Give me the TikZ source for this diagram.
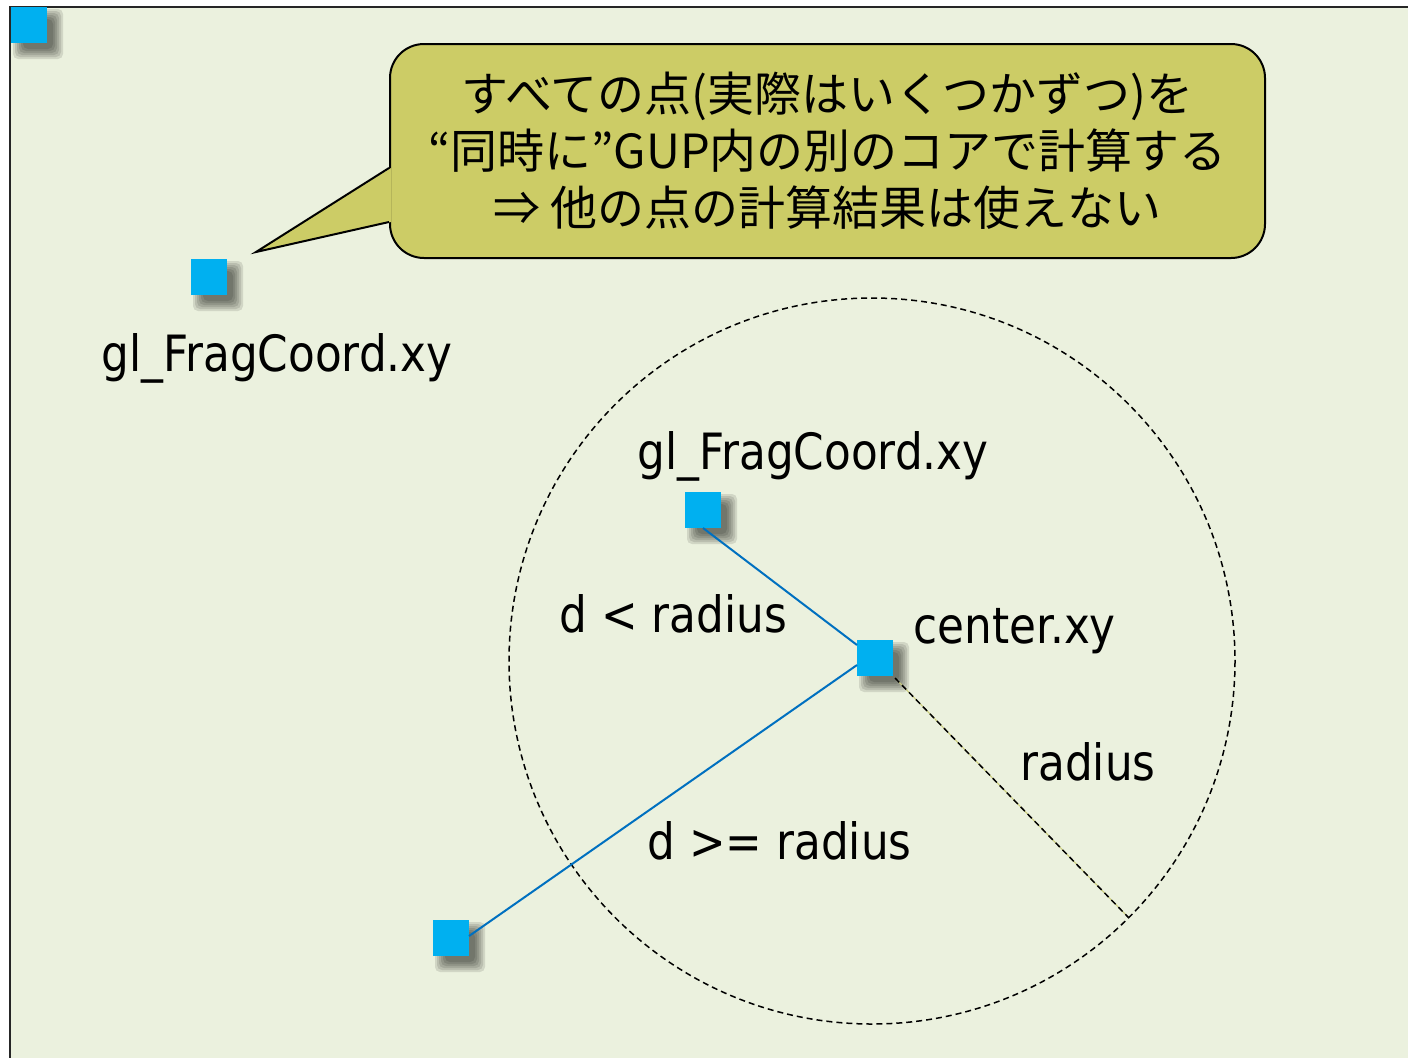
\documentclass[tikz,border=0pt]{standalone}
\usepackage{fontspec}
\setmainfont[FakeStretch=0.875]{DejaVu Sans}
\newfontfamily\jpfont{Noto Sans CJK JP}
\usetikzlibrary{calc}

\definecolor{panel}{HTML}{EBF1DE}
\definecolor{notefill}{HTML}{CCCC66}
\definecolor{pixel}{HTML}{00B0F0}
\definecolor{raycol}{HTML}{0070C0}
\definecolor{guide}{HTML}{C9CC7A}

\begin{document}
\begin{tikzpicture}[x=0.5pt,y=-0.5pt,
  softlayer/.style={fill=black, opacity=0.11, rounded corners=2.5pt},
  px/.style={fill=pixel, minimum size=18pt, inner sep=0pt, outer sep=0pt},
  lbl/.style={anchor=base west, inner sep=0pt,
    font=\fontsize{25pt}{30pt}\selectfont},
  raystyle/.style={draw=raycol, line width=1pt},
  rimline/.style={draw=black, line width=0.75pt, dash pattern=on 3pt off 2pt},
  notebox/.style={fill=notefill, draw=black, line width=1pt,
    rounded corners=17pt, minimum width=437.5pt, minimum height=107pt,
    align=center, inner sep=0pt,
    font=\jpfont\fontsize{23.5pt}{28.5pt}\selectfont}]

\useasboundingbox (0,0) rectangle (1408,1057);

% panel frame, running off the right and bottom edges
\fill[white] (0,0) rectangle (1408,1057);
\begin{scope}
  \clip (0,0) rectangle (1408,1057);
  \draw[fill=panel, draw=black!85, line width=1pt] (10,7) rectangle (1430,1080);
\end{scope}

% radius circle
\coordinate (ctr) at (872,661);
\coordinate (rim) at ($(ctr)+(45:363)$);
\draw[rimline] (ctr) circle[radius=363];

% pixel markers, each over a soft shadow of stacked translucent squares
\foreach \n/\x/\y in {corner/29/25, free/209/277, inside/703/510,
                      center/875/658, outside/451/938} {
  \foreach \e in {7,5,3,1,-1,-3}
    \fill[softlayer] ({\x-9-\e},{\y-9-\e}) rectangle ({\x+27+\e},{\y+27+\e});
  \node[px] (\n) at (\x,\y) {};
}

% rays between the markers
\draw[raystyle] (inside.south) -- ($(center.north west)+(0,5)$);
\draw[raystyle] ($(center.west)+(0,7)$) -- ($(outside.north east)+(0,16)$);
\draw[guide, line width=0.5pt] ($(center.south east)+(2,2)$) -- (rim);
\draw[rimline] ($(center.south east)+(2,2)$) -- (rim);

% callout
\node[notebox] (note) at (827.5,151)
  {すべての点(実際はいくつかずつ)を\\“同時に”GUP内の別のコアで計算する\\⇒ 他の点の計算結果は使えない};
\coordinate (tip) at (256,252);
\fill[notefill] (tip) -- ($(note.west)+(2,71)$) -- ($(note.west)+(2,17)$) -- cycle;
\draw[line width=1pt, line join=miter] ($(note.west)+(0,71)$) -- (tip) -- ($(note.west)+(0,17)$);

% labels
\node[lbl] (freelbl)   at (101,371) {gl\_FragCoord.xy};
\node[lbl] (insidelbl) at (637,469) {gl\_FragCoord.xy};
\node[lbl] (lesslbl)   at (559,632) {d < radius};
\node[lbl] (centerlbl) at (913,643) {center.xy};
\node[lbl] (radlbl)    at (1020,780) {radius};
\node[lbl] (geqlbl)    at (647,859) {d >= radius};

\end{tikzpicture}
\end{document}
